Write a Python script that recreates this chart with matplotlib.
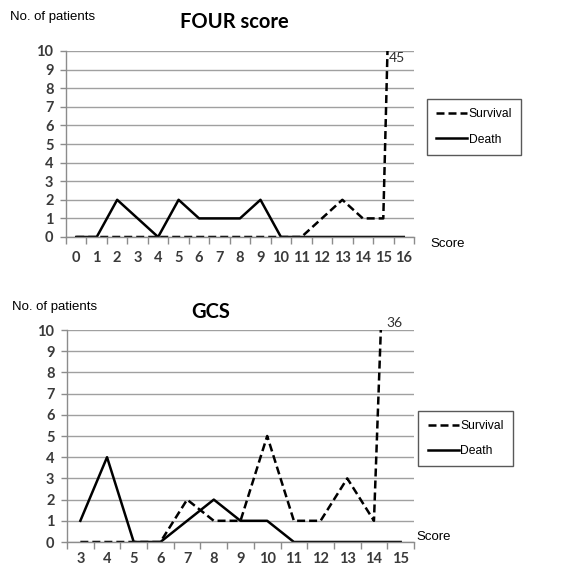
import matplotlib
matplotlib.use("Agg")
import matplotlib.pyplot as plt
from matplotlib.lines import Line2D

# ---- data ----
four_scores = list(range(0, 17))
four_survival = [0, 0, 0, 0, 0, 0, 0, 0, 0, 0, 0, 0, 1, 2, 1, 1, 45]
four_death = [0, 0, 2, 1, 0, 2, 1, 1, 1, 2, 0, 0, 0, 0, 0, 0, 0]

gcs_scores = list(range(3, 16))
gcs_survival = [0, 0, 0, 0, 2, 1, 1, 5, 1, 1, 3, 1, 36]
gcs_death = [1, 4, 0, 0, 1, 2, 1, 1, 0, 0, 0, 0, 0]

y_ticks = list(range(0, 11))
series_labels = ["Survival", "Death"]

W, H = 578, 566
fig = plt.figure(figsize=(W / 100, H / 100), dpi=100)

TICK_FONT = dict(family=["Lato", "DejaVu Sans"], weight="bold", size=10.5)
TXT_FONT = ["Liberation Sans", "DejaVu Sans"]
GRAY = "#8c8c8c"
TEXTC = "#3a3a3a"


def px_axes(l, t, r, b):
    return fig.add_axes([l / W, 1 - b / H, (r - l) / W, (b - t) / H])


def draw_panel(ax, xs, surv, death, peak_label, peak_xy, xpad):
    ax.set_xlim(xs[0] - 0.5, xs[-1] + 0.5)
    ax.set_ylim(0, 10)
    ax.plot(xs, surv, color="black", lw=1.8, ls=(0, (3.2, 1.6)), clip_on=True,
            solid_capstyle="butt", dash_capstyle="butt")
    ax.plot(xs, death, color="black", lw=1.8, clip_on=True)
    ax.set_yticks(y_ticks)
    ax.set_yticklabels([str(v) for v in y_ticks], **TICK_FONT, color=TEXTC)
    ax.yaxis.grid(True, color="#a0a0a0", lw=1)
    ax.set_axisbelow(True)
    ax.set_xticks([x - 0.5 for x in xs] + [xs[-1] + 0.5])
    ax.set_xticklabels([])
    ax.set_xticks(xs, minor=True)
    ax.set_xticklabels([str(x) for x in xs], minor=True, **TICK_FONT, color=TEXTC)
    ax.tick_params(axis="x", which="major", length=5, color=GRAY, width=1, direction="out")
    ax.tick_params(axis="x", which="minor", length=0, pad=xpad)
    ax.tick_params(axis="y", length=4, color=GRAY, width=1, pad=5)
    for s in ["top", "right"]:
        ax.spines[s].set_visible(False)
    for s in ["left", "bottom"]:
        ax.spines[s].set_color(GRAY)
        ax.spines[s].set_linewidth(1)
    ax.text(peak_xy[0], peak_xy[1], peak_label, fontsize=10,
            family=["Lato", "DejaVu Sans"], color="#303030",
            ha="left", va="center", clip_on=False)


# top panel
ax1 = px_axes(66, 51, 414, 237)
draw_panel(ax1, four_scores, four_survival, four_death, "45", (15.25, 9.62), 10)
# bottom panel
ax2 = px_axes(67, 330, 414, 542)
draw_panel(ax2, gcs_scores, gcs_survival, gcs_death, "36", (14.45, 10.33), 7)

# texts
fig.text(10 / W, 1 - 17 / H, "No. of patients", family=TXT_FONT, fontsize=9.5,
         va="center", ha="left", color="black")
fig.text(12 / W, 1 - 307 / H, "No. of patients", family=TXT_FONT, fontsize=9.5,
         va="center", ha="left", color="black")
fig.text(234 / W, 1 - 22 / H, "FOUR score", family=["Lato", "DejaVu Sans"],
         weight="bold", fontsize=14.5, ha="center", va="center")
fig.text(211 / W, 1 - 312 / H, "GCS", family=["Lato", "DejaVu Sans"],
         weight="bold", fontsize=14.5, ha="center", va="center")
fig.text(430 / W, 1 - 244 / H, "Score", family=TXT_FONT, fontsize=9.5,
         ha="left", va="center")
fig.text(416 / W, 1 - 537 / H, "Score", family=TXT_FONT, fontsize=9.5,
         ha="left", va="center")

handles = [Line2D([], [], color="black", lw=1.8, ls=(0, (3.2, 1.6))),
           Line2D([], [], color="black", lw=1.8)]


def add_legend(l, t, r, b):
    leg = fig.legend(handles, series_labels, loc="center",
                     bbox_to_anchor=((l + r) / 2 / W, 1 - (t + b) / 2 / H),
                     prop={"family": TXT_FONT, "size": 8.7},
                     frameon=True, fancybox=False, handlelength=2.6,
                     handletextpad=0.1, labelspacing=1.1, borderpad=0.75,
                     borderaxespad=0)
    fr = leg.get_frame()
    fr.set_edgecolor("#303030")
    fr.set_linewidth(1)
    return leg


add_legend(429, 97, 519, 157)
add_legend(420, 410, 511, 467)

fig.savefig("out.png", dpi=100)
